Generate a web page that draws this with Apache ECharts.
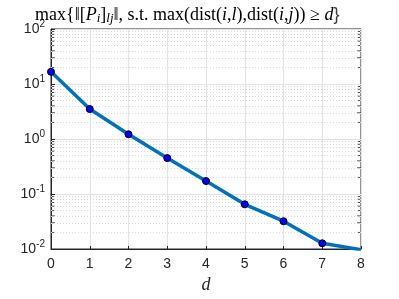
<!DOCTYPE html>
<html>
<head>
<meta charset="utf-8">
<script src="https://cdn.jsdelivr.net/npm/echarts@6/dist/echarts.min.js"></script>
<style>html,body{margin:0;padding:0;background:#fff}#main{width:399px;height:299px}</style>
</head>
<body>
<div id="main"></div>
<script>
var dValues = [0, 1, 2, 3, 4, 5, 6, 7, 8];
var normValues = [16.7, 3.5, 1.22, 0.45, 0.172, 0.065, 0.032, 0.0127, 0.0097];
var xTicks = ['0', '1', '2', '3', '4', '5', '6', '7', '8'];
var decades = [0.01, 0.1, 1, 10];
var minorSteps = [2, 3, 4, 5, 6, 7, 8, 9];

var minorValues = [];
decades.forEach(function (dec) {
    minorSteps.forEach(function (m) { minorValues.push(+(dec * m).toPrecision(3)); });
});

var chart = echarts.init(document.getElementById('main'));
var option = {
    animation: false,
    title: {
        text: '{n|max{‖[}{it|P}{sub|i}{n|]}{sub|lj}{n|‖, s.t. max(dist(}{it|i}{n|,}{it|l}{n|),dist(}{it|i}{n|,}{it|j}{n|)) ≥ }{it|d}{n|\u007d}',
        left: 30,
        top: 0,
        textStyle: {
            fontWeight: 'normal',
            rich: {
                n: { fontFamily: 'Liberation Serif', fontSize: 18, fontWeight: 'normal', color: '#000' },
                it: { fontFamily: 'Liberation Serif', fontSize: 18, fontWeight: 'normal', fontStyle: 'italic', color: '#000' },
                sub: { fontFamily: 'Liberation Serif', fontSize: 13, fontWeight: 'normal', fontStyle: 'italic', color: '#000', padding: [7, 0, 0, 0] }
            }
        }
    },
    grid: {
        left: 51, right: 38, top: 29, bottom: 50,
        show: true, borderColor: '#262626', borderWidth: 1
    },
    xAxis: {
        type: 'value',
        min: 0, max: 8, interval: 1,
        name: 'd',
        nameLocation: 'middle',
        nameGap: 27,
        nameTextStyle: { fontFamily: 'Liberation Serif', fontStyle: 'italic', fontSize: 18, color: '#262626' },
        axisLine: { lineStyle: { color: '#262626' } },
        axisTick: { inside: true, length: 3, lineStyle: { color: '#262626' } },
        axisLabel: {
            margin: 8, fontFamily: 'Liberation Sans', fontSize: 14, color: '#262626',
            formatter: function (v) { return xTicks[v]; }
        },
        splitLine: { lineStyle: { color: '#e3e3e3' } }
    },
    yAxis: {
        type: 'log',
        min: 0.01, max: 100, logBase: 10,
        axisLine: { lineStyle: { color: '#262626' } },
        axisTick: { inside: true, length: 4, lineStyle: { color: '#262626' } },
        splitLine: { lineStyle: { color: '#e3e3e3' } },
        axisLabel: {
            margin: 6,
            formatter: function (v) {
                return '{b|10}{e|' + Math.round(Math.log10(v)) + '}';
            },
            rich: {
                b: { fontFamily: 'Liberation Sans', fontSize: 14, color: '#262626' },
                e: { fontFamily: 'Liberation Sans', fontSize: 10, color: '#262626', padding: [0, 0, 9, 0] }
            }
        }
    },
    series: [{
        type: 'line',
        data: dValues.map(function (d, i) { return [d, normValues[i]]; }),
        lineStyle: { color: '#0072BD', width: 3.5 },
        itemStyle: { color: '#0000FF', borderColor: '#000', borderWidth: 1 },
        symbol: 'circle',
        symbolSize: 7,
        showSymbol: true,
        z: 5,
        markLine: {
            silent: true,
            symbol: 'none',
            label: { show: false },
            lineStyle: { color: '#d9d9d9', type: [1, 2], width: 1 },
            data: minorValues.map(function (v) { return { yAxis: v }; })
        }
    }, {
        // minor ticks on left border
        type: 'scatter',
        silent: true,
        data: minorValues.map(function (v) { return [0, v]; }),
        symbol: 'rect',
        symbolSize: [4, 1],
        symbolOffset: [2, 0],
        itemStyle: { color: '#262626' },
        z: 3
    }, {
        // minor ticks on right border
        type: 'scatter',
        silent: true,
        data: minorValues.map(function (v) { return [8, v]; }),
        symbol: 'rect',
        symbolSize: [4, 1],
        symbolOffset: [-2, 0],
        itemStyle: { color: '#262626' },
        z: 3
    }]
};
chart.setOption(option);
</script>
</body>
</html>
